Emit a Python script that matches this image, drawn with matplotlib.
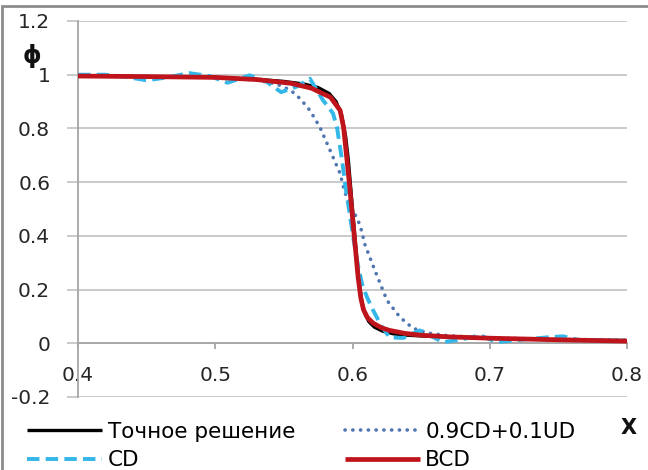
import matplotlib
matplotlib.use("Agg")
import matplotlib.pyplot as plt
from matplotlib.patches import Rectangle

# ---------------- data ----------------
x_exact = [0.40, 0.45, 0.50, 0.53, 0.55, 0.565, 0.575, 0.583, 0.588, 0.592, 0.595, 0.597,
           0.599, 0.601, 0.603, 0.605, 0.607, 0.609, 0.612, 0.616, 0.622, 0.63, 0.64, 0.66,
           0.70, 0.75, 0.80]
y_exact = [0.995, 0.993, 0.99, 0.983, 0.975, 0.965, 0.952, 0.93, 0.90, 0.85, 0.77, 0.68,
           0.56, 0.44, 0.32, 0.22, 0.15, 0.11, 0.08, 0.06, 0.045, 0.035, 0.03, 0.025,
           0.018, 0.013, 0.01]

x_mix = [0.40, 0.45, 0.50, 0.53, 0.545, 0.555, 0.562, 0.569, 0.5763, 0.5836, 0.5909, 0.5945,
         0.600, 0.6055, 0.6091, 0.6164, 0.6251, 0.6346, 0.644, 0.655, 0.67, 0.70, 0.75, 0.80]
y_mix = [0.995, 0.993, 0.99, 0.98, 0.965, 0.942, 0.91, 0.867, 0.804, 0.719, 0.633, 0.56,
         0.50, 0.44, 0.367, 0.27, 0.160, 0.097, 0.056, 0.038, 0.028, 0.02, 0.015, 0.012]

x_cd = [0.40, 0.42, 0.435, 0.45, 0.465, 0.481, 0.496, 0.509, 0.525, 0.537, 0.548, 0.559,
        0.569, 0.5785, 0.5858, 0.5887, 0.5924, 0.595, 0.598, 0.601, 0.604, 0.607, 0.6106,
        0.615, 0.621, 0.627, 0.637, 0.649, 0.658, 0.666, 0.68, 0.693, 0.705, 0.72, 0.7417,
        0.7534, 0.765, 0.78, 0.80]
y_cd = [1.0, 1.0, 0.992, 0.979, 0.99, 1.006, 0.995, 0.97, 0.998, 0.975, 0.935, 0.955,
        0.985, 0.905, 0.856, 0.804, 0.681, 0.58, 0.48, 0.38, 0.29, 0.22, 0.171,
        0.123, 0.065, 0.022, 0.02, 0.048, 0.025, 0.004, 0.015, 0.03, 0.004, 0.012, 0.022,
        0.026, 0.012, 0.01, 0.01]

x_bcd = [0.40, 0.45, 0.50, 0.53, 0.555, 0.57, 0.584, 0.591, 0.5935, 0.596, 0.598, 0.600,
         0.602, 0.604, 0.606, 0.608, 0.611, 0.615, 0.621, 0.627, 0.638, 0.65, 0.67, 0.70,
         0.75, 0.80]
y_bcd = [0.995, 0.993, 0.99, 0.982, 0.968, 0.95, 0.916, 0.867, 0.804, 0.681, 0.58, 0.47,
         0.36, 0.25, 0.17, 0.125, 0.095, 0.075, 0.058, 0.048, 0.037, 0.030, 0.024, 0.019,
         0.013, 0.008]

labels = ["Точное решение", "0.9CD+0.1UD", "CD", "BCD"]
x_ticks = [0.4, 0.5, 0.6, 0.7, 0.8]
x_ticklabels = ["0.4", "0.5", "0.6", "0.7", "0.8"]
y_ticks = [-0.2, 0, 0.2, 0.4, 0.6, 0.8, 1, 1.2]
y_ticklabels = ["-0.2", "0", "0.2", "0.4", "0.6", "0.8", "1", "1.2"]

# ---------------- figure ----------------
W, H = 648, 470
fig = plt.figure(figsize=(W / 100, H / 100), dpi=100)
fig.patch.set_facecolor("white")

ax = fig.add_axes([78 / W, 73 / H, (627 - 78) / W, (397 - 21) / H])
ax.set_xlim(0.4, 0.8)
ax.set_ylim(-0.2, 1.2)

grid_c = "#c6c6c6"
axis_c = "#a6a6a6"

l_exact, = ax.plot(x_exact, y_exact, color="black", lw=2.4, zorder=3,
                   solid_capstyle="butt")
l_mix, = ax.plot(x_mix, y_mix, color="#4f76b0", lw=2.6, zorder=4,
                 linestyle=(0, (0.05, 2.1)), dash_capstyle="round")
l_cd, = ax.plot(x_cd, y_cd, color="#33b7e8", lw=2.8, zorder=5,
                linestyle=(0, (3.2, 1.6)), dash_capstyle="butt")
l_bcd, = ax.plot(x_bcd, y_bcd, color="#c0141c", lw=3.4, zorder=6,
                 solid_capstyle="butt")

ax.set_yticks(y_ticks)
ax.set_yticklabels(y_ticklabels)
ax.set_xticks(x_ticks)
ax.set_xticklabels(x_ticklabels)

ax.yaxis.grid(True, color=grid_c, lw=1.3)
ax.set_axisbelow(True)

for s in ["top", "right"]:
    ax.spines[s].set_visible(False)
ax.spines["left"].set_color(axis_c)
ax.spines["left"].set_linewidth(1.3)
ax.spines["bottom"].set_position(("data", 0))
ax.spines["bottom"].set_color(axis_c)
ax.spines["bottom"].set_linewidth(1.3)

ax.tick_params(axis="y", direction="out", length=8, width=1.3, color=grid_c,
               pad=12, labelsize=14.5, labelcolor="#262626")
ax.tick_params(axis="x", direction="out", length=4, width=1.3, color=axis_c,
               pad=12, labelsize=14.5, labelcolor="#262626")

# axis titles
fig.text(32 / W, 1 - 56 / H, "ϕ", fontsize=17, fontweight="bold",
         ha="center", va="center", color="#111111")
fig.text(629 / W, 1 - 428 / H, "X", fontsize=15, fontweight="bold",
         ha="center", va="center", color="#111111")

# legend
fig.legend([l_exact, l_cd, l_mix, l_bcd],
           [labels[0], labels[2], labels[1], labels[3]],
           ncol=2, loc="upper left", bbox_to_anchor=(27 / W, 1 - 422 / H),
           frameon=False, fontsize=15.5, handlelength=3.5, handletextpad=0.25,
           columnspacing=2.3, labelspacing=0.38, borderpad=0, borderaxespad=0)

# outer frame (left and top edges)
fig.patches.append(Rectangle((2 / W, -0.1), 1.2, 1.1 - 6 / H, transform=fig.transFigure,
                             fill=False, edgecolor="#8c8c8c", lw=2.0, zorder=10))

fig.savefig("out.png", dpi=100)
